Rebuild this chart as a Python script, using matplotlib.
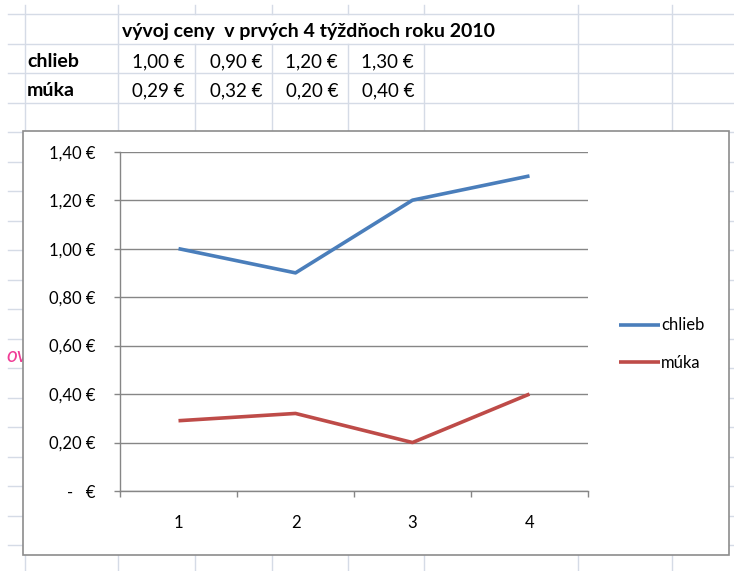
import matplotlib.pyplot as plt
from matplotlib.patches import Rectangle

plt.rcParams['font.family'] = ['Lato', 'DejaVu Sans']

# data from the sheet
weeks = [1, 2, 3, 4]
chlieb = [1.00, 0.90, 1.20, 1.30]
muka = [0.29, 0.32, 0.20, 0.40]
title = "vývoj ceny  v prvých 4 týždňoch roku 2010"
y_ticks = [0, 0.2, 0.4, 0.6, 0.8, 1.0, 1.2, 1.4]
y_labels = ["-   €", "0,20 €", "0,40 €", "0,60 €", "0,80 €", "1,00 €", "1,20 €", "1,40 €"]

W, H = 734, 571
fig = plt.figure(figsize=(W / 100, H / 100), dpi=100)

# background "spreadsheet" layer in pixel coords
bg = fig.add_axes([0, 0, 1, 1])
bg.set_xlim(0, W)
bg.set_ylim(H, 0)
bg.axis('off')

grid_c = '#d5dbe6'
row_y = [14 + 29.5 * k for k in range(19)]
col_x = [25, 118, 195, 272, 348, 424, 578, 672]
for y in row_y:
    bg.plot([8, W], [y, y], color=grid_c, lw=1.0, zorder=1)
for x in col_x:
    if 150 < x < 500:
        # title text overflows these cells, excel hides the lines there
        bg.plot([x, x], [5, row_y[0]], color=grid_c, lw=1.0, zorder=1)
        bg.plot([x, x], [row_y[1], H], color=grid_c, lw=1.0, zorder=1)
    else:
        bg.plot([x, x], [5, H], color=grid_c, lw=1.0, zorder=1)

def euro(v):
    return f"{v:.2f} €".replace('.', ',')

bg.text(122, 31.5, title, fontsize=14, fontweight='bold', va='center', ha='left', zorder=2)
bg.text(27, 61.5, "chlieb", fontsize=14, fontweight='bold', va='center', ha='left', zorder=2)
bg.text(27, 90.5, "múka", fontsize=14, fontweight='bold', va='center', ha='left', zorder=2)
for i, (a, b) in enumerate(zip(chlieb, muka)):
    right = col_x[i + 2] - 10
    bg.text(right, 61.5, euro(a), fontsize=13.5, va='center', ha='right', zorder=2)
    bg.text(right, 90.5, euro(b), fontsize=13.5, va='center', ha='right', zorder=2)

# stray text partly hidden by the chart
bg.text(27, 356, "ov", fontsize=15, style='italic', color='#f03c96',
        va='center', ha='right', zorder=2)

# chart box
bg.add_patch(Rectangle((23, 131), 706, 424, facecolor='white', edgecolor='#8c8c8c',
                       lw=1.2, zorder=3))

# plot area
left, right, top, bottom = 120, 588, 151.7, 491
ax = fig.add_axes([left / W, (H - bottom) / H, (right - left) / W, (bottom - top) / H])
ax.set_zorder(5)
ax.patch.set_alpha(0)

line_c, = ax.plot(weeks, chlieb, color='#4a7ebb', lw=2.6, label='chlieb', solid_capstyle='butt')
line_m, = ax.plot(weeks, muka, color='#be4b48', lw=2.6, label='múka', solid_capstyle='butt')

ax.set_xlim(0.5, 4.5)
ax.set_ylim(0, 1.4)
ax.set_yticks(y_ticks)
ax.set_yticklabels(y_labels)
ax.set_xticks(weeks)
ax.set_xticks([0.5, 1.5, 2.5, 3.5, 4.5], minor=True)
ax.grid(axis='y', color='#868686', lw=1.0)
ax.set_axisbelow(True)

for s in ['top', 'right']:
    ax.spines[s].set_visible(False)
for s in ['left', 'bottom']:
    ax.spines[s].set_color('#868686')
    ax.spines[s].set_linewidth(1.0)

ax.tick_params(axis='y', length=4.3, width=1.0, color='#868686', pad=13, labelsize=12)
ax.tick_params(axis='x', which='major', length=0, pad=17, labelsize=12)
ax.tick_params(axis='x', which='minor', length=4.3, width=1.0, color='#868686')

fig.legend(handles=[line_c, line_m], loc='center left',
           bbox_to_anchor=(604 / W, (H - 344) / H), frameon=False,
           fontsize=12, handlelength=2.46, handletextpad=0.05, labelspacing=1.27)

fig.savefig('out.png', dpi=100)
